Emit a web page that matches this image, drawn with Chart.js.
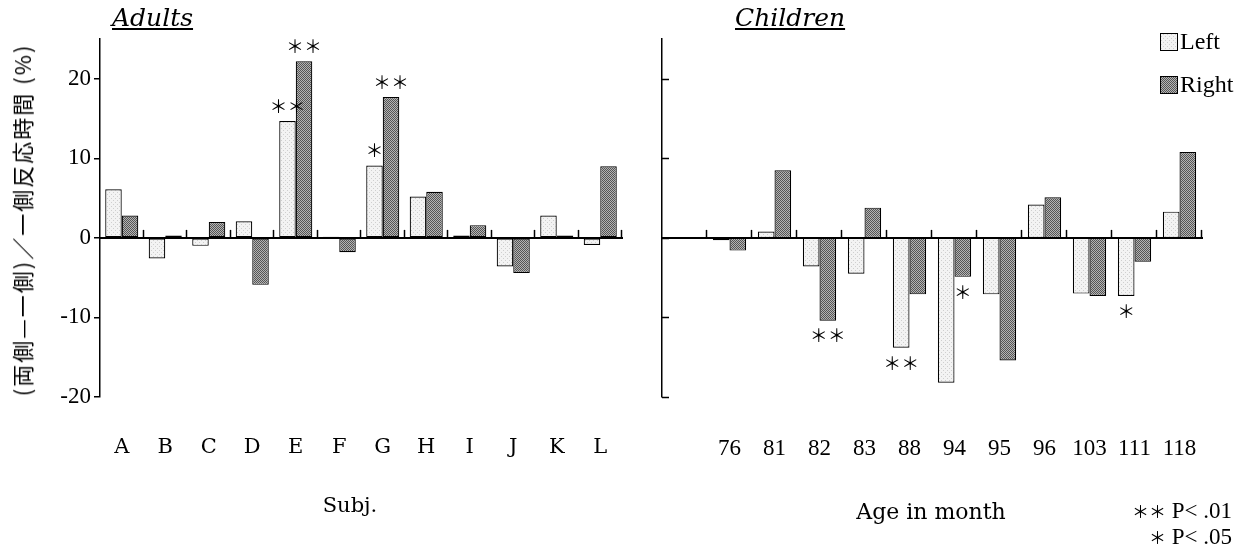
<!DOCTYPE html>
<html><head><meta charset="utf-8">
<script src="https://cdn.jsdelivr.net/npm/chart.js@4.4.1/dist/chart.umd.min.js"></script>
<style>
html,body{margin:0;padding:0;background:#fff;width:1241px;height:548px;overflow:hidden;}
body{position:relative;font-family:"DejaVu Serif",serif;color:#000;}
canvas{position:absolute;top:0;}
.t{position:absolute;white-space:nowrap;line-height:1;}
.ast{font-family:"Noto Sans CJK JP";font-size:17px;}
.num{font-family:"Liberation Serif",serif;}
</style></head><body>
<canvas id="adults" width="640" height="548" style="left:0"></canvas>
<canvas id="children" width="601" height="548" style="left:640px"></canvas>

<div class="t" style="left:112px;top:5px;font-size:25px;font-style:italic;text-decoration:underline;">Adults</div>
<div class="t" style="left:735px;top:5px;font-size:25px;font-style:italic;text-decoration:underline;">Children</div>
<div class="t" style="left:21px;top:220px;transform:translate(-50%,-50%) rotate(-90deg);font-family:'Noto Sans CJK JP';font-size:22px;letter-spacing:2px;">(両側—一側)／一側反応時間 (%)</div>
<div class="t" style="left:350px;top:505px;transform:translate(-50%,-50%);font-size:21px;">Subj.</div>
<div class="t" style="left:931px;top:512px;transform:translate(-50%,-50%);font-size:22px;">Age in month</div>
<div class="t num" style="right:9px;top:499px;font-size:23px;"><span class="ast">＊＊</span> P&lt; .01</div>
<div class="t num" style="right:9px;top:525px;font-size:23px;"><span class="ast">＊</span> P&lt; .05</div>

<script>
const adultCategories = ['A','B','C','D','E','F','G','H','I','J','K','L'];
const adultLeft  = [6.1, -2.6, -1.0, 2.1, 14.7, 0.15, 9.1, 5.2, 0.3, -3.6, 2.8, -0.9];
const adultRight = [2.8, 0.3, 2.0, -5.9, 22.2, -1.8, 17.7, 5.8, 1.6, -4.4, 0.3, 9.0];
const adultSigLeft  = ['', '', '', '', '**', '', '*', '', '', '', '', ''];
const adultSigRight = ['', '', '', '', '**', '', '**', '', '', '', '', ''];

const childCategories = ['', '76', '81', '82', '83', '88', '94', '95', '96', '103', '111', '118'];
const childLeft  = [null, -0.3, 0.8, -3.6, -4.5, -13.8, -18.2, -7.1, 4.2, -7.0, -7.3, 3.3];
const childRight = [null, -1.6, 8.5, -10.4, 3.8, -7.1, -4.9, -15.4, 5.1, -7.3, -3.0, 10.8];
const childSigLeft  = ['', '', '', '', '', '**', '', '', '', '', '*', ''];
const childSigRight = ['', '', '', '**', '', '', '*', '', '', '', '', ''];

const yTickValues = [-20, -10, 0, 10, 20];
const seriesNames = ['Left', 'Right'];

function makePattern(kind) {
  const c = document.createElement('canvas');
  const g = c.getContext('2d');
  if (kind === 'dark') {
    c.width = 2; c.height = 2;
    g.fillStyle = '#b4b4b4'; g.fillRect(0, 0, 2, 2);
    g.fillStyle = '#555'; g.fillRect(0, 0, 1, 1); g.fillRect(1, 1, 1, 1);
  } else {
    c.width = 4; c.height = 4;
    g.fillStyle = '#f3f3f3'; g.fillRect(0, 0, 4, 4);
    g.fillStyle = '#cfcfcf'; g.fillRect(1, 0, 1, 1); g.fillRect(3, 2, 1, 1);
  }
  return g.createPattern(c, 'repeat');
}
const lightFill = makePattern('light');
const darkFill = makePattern('dark');

const numFont = '"Liberation Serif", serif';
const textFont = '"DejaVu Serif", serif';

const decor = {
  id: 'decor',
  afterDatasetsDraw(chart, args, o) {
    const {ctx, chartArea, scales: {x, y}} = chart;
    ctx.save();
    const y0 = y.getPixelForValue(0);
    ctx.strokeStyle = '#000';
    ctx.lineWidth = 2;
    ctx.beginPath(); ctx.moveTo(chartArea.left, y0); ctx.lineTo(chartArea.right + 1, y0); ctx.stroke();
    ctx.lineWidth = 1.5;
    const n = chart.data.labels.length;
    for (let i = 0; i < n; i++) {
      const px = Math.round(x.getPixelForValue(i + 0.5)) - 0.5;
      ctx.beginPath(); ctx.moveTo(px, y0); ctx.lineTo(px, y0 - 8); ctx.stroke();
    }
    if (o.inwardTicks) {
      yTickValues.forEach(v => {
        const py = Math.round(y.getPixelForValue(v)) + 0.5;
        ctx.beginPath(); ctx.moveTo(chartArea.left, py); ctx.lineTo(chartArea.left + 7, py); ctx.stroke();
      });
    }
    // significance marks
    ctx.fillStyle = '#000';
    ctx.font = '18px "Noto Sans CJK JP"';
    ctx.textAlign = 'center';
    ctx.textBaseline = 'middle';
    o.sig.forEach((arr, d) => {
      const meta = chart.getDatasetMeta(d);
      arr.forEach((s, i) => {
        if (!s) return;
        const el = meta.data[i];
        const v = chart.data.datasets[d].data[i];
        const txt = s.replace(/\*/g, '＊');
        const py = v >= 0 ? el.y - 15 : el.y + 15;
        ctx.fillText(txt, el.x, py);
      });
    });
    // legend
    if (o.legend) {
      ctx.font = '24px ' + numFont;
      ctx.textAlign = 'left';
      ctx.textBaseline = 'middle';
      chart.data.datasets.forEach((ds, d) => {
        const bx = o.legend.x, by = o.legend.y + d * 43;
        ctx.fillStyle = ds.backgroundColor;
        ctx.fillRect(bx, by - 9, 18, 18);
        ctx.lineWidth = 1;
        ctx.strokeStyle = '#000';
        ctx.strokeRect(bx + 0.5, by - 8.5, 17, 17);
        ctx.fillStyle = '#000';
        ctx.fillText(ds.label, bx + 20, by + 1);
      });
    }
    ctx.restore();
  }
};

function makeChart(id, labels, left, right, sig, yAxisWidth, padRight, opts) {
  return new Chart(document.getElementById(id), {
    type: 'bar',
    data: {
      labels: labels,
      datasets: [
        {label: seriesNames[0], data: left, backgroundColor: lightFill, borderColor: '#000', borderWidth: 1.2, borderSkipped: false},
        {label: seriesNames[1], data: right, backgroundColor: darkFill, borderColor: '#000', borderWidth: 1.2, borderSkipped: false}
      ]
    },
    plugins: [decor],
    options: {
      responsive: false,
      animation: false,
      devicePixelRatio: 1,
      layout: {padding: {top: 39, right: padRight, bottom: 0, left: 0}},
      datasets: {bar: {barPercentage: 1.0, categoryPercentage: opts.cat}},
      plugins: {
        legend: {display: false},
        tooltip: {enabled: false},
        decor: {sig: sig, inwardTicks: opts.inward, legend: opts.legend}
      },
      scales: {
        x: {
          grid: {display: false},
          border: {display: false},
          ticks: {color: '#000', font: {family: opts.xFont, size: opts.xSize}, padding: 30, maxRotation: 0, autoSkip: false},
          afterFit(s) { s.height = 151; }
        },
        y: {
          min: -20, max: 25,
          afterBuildTicks(s) { s.ticks = yTickValues.map(v => ({value: v})); },
          grid: {display: opts.showLabels, drawOnChartArea: false, drawTicks: true, tickLength: 6, color: '#000', lineWidth: 1.5},
          border: {display: true, color: '#000', width: 1.5},
          ticks: {display: opts.showLabels, color: '#000', font: {family: numFont, size: 23}, padding: 3},
          afterFit(s) { s.width = yAxisWidth; }
        }
      }
    }
  });
}

makeChart('adults', adultCategories, adultLeft, adultRight, [adultSigLeft, adultSigRight], 100, 18,
  {cat: 0.76, inward: false, showLabels: true, legend: null, xFont: textFont, xSize: 21});
makeChart('children', childCategories, childLeft, childRight, [childSigLeft, childSigRight], 22, 39,
  {cat: 0.74, inward: true, showLabels: false, legend: {x: 520, y: 42}, xFont: numFont, xSize: 23});
</script>
</body></html>
